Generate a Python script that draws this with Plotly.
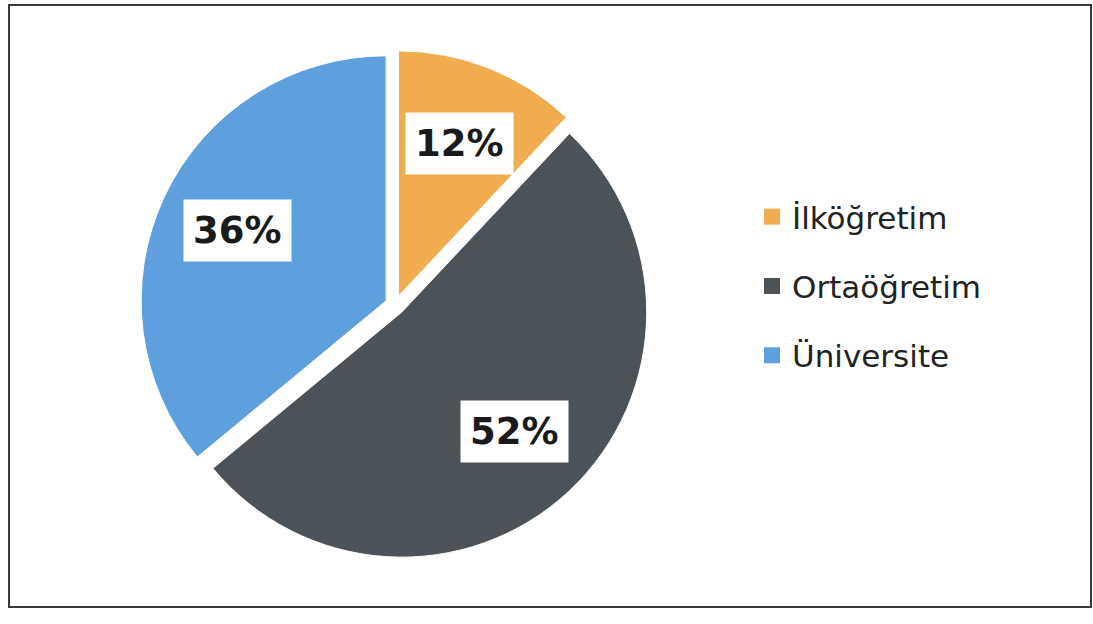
import math
import plotly.graph_objects as go

labels = ["İlköğretim", "Ortaöğretim", "Üniversite"]
values = [12, 52, 36]
colors = ["#F1AC4F", "#4B5358", "#5EA0DD"]

W, H = 1093, 624
# pie geometry in pixels (layout only)
cx_px, cy_px, r_px = 395, 305, 245
pull = 0.04
half = r_px * (1 + pull)

dom_x = [(cx_px - half) / W, (cx_px + half) / W]
dom_y = [(H - cy_px - half) / H, (H - cy_px + half) / H]

fig = go.Figure()
fig.add_trace(go.Pie(
    labels=labels, values=values, sort=False, direction="clockwise", rotation=0,
    marker=dict(colors=colors, line=dict(color="white", width=1)),
    pull=[pull] * len(values), textinfo="none", hoverinfo="label+percent",
    showlegend=False, domain=dict(x=dom_x, y=dom_y),
))

# legend entries
for i, (lab, col) in enumerate(zip(labels, colors)):
    fig.add_trace(go.Scatter(
        x=[None], y=[None], mode="markers", name=lab, legendgroup=f"g{i}",
        marker=dict(symbol="square", size=16, color=col),
    ))

# percentage labels in white boxes, positioned from the data
total = sum(values)
cum = 0
for v in values:
    mid = (cum + v / 2) / total * 2 * math.pi
    cum += v
    k = 0.67 + pull
    px = cx_px + r_px * k * math.sin(mid)
    py = cy_px - r_px * k * math.cos(mid)
    fig.add_annotation(
        x=px / W, y=(H - py) / H, xref="paper", yref="paper",
        xanchor="center", yanchor="middle",
        text=f"<b>{round(v / total * 100)}%</b>", showarrow=False,
        font=dict(family="DejaVu Sans", size=37, color="#1a1a1a"),
        bgcolor="white", borderpad=9,
    )

fig.add_shape(type="rect", xref="paper", yref="paper",
              x0=9 / W, x1=1091 / W, y0=(H - 607) / H, y1=(H - 5) / H,
              line=dict(color="#3a3a3a", width=2))

fig.update_layout(
    width=W, height=H, margin=dict(l=0, r=0, t=0, b=0),
    paper_bgcolor="white", plot_bgcolor="white",
    xaxis=dict(visible=False), yaxis=dict(visible=False),
    legend=dict(x=752 / W, y=(H - 286) / H, xanchor="left", yanchor="middle",
                font=dict(family="DejaVu Sans", size=31, color="#222222"),
                tracegroupgap=26, bgcolor="rgba(0,0,0,0)"),
)

fig.write_html("out.html", config={"displayModeBar": False},
               post_script="document.body.style.margin='0';")
